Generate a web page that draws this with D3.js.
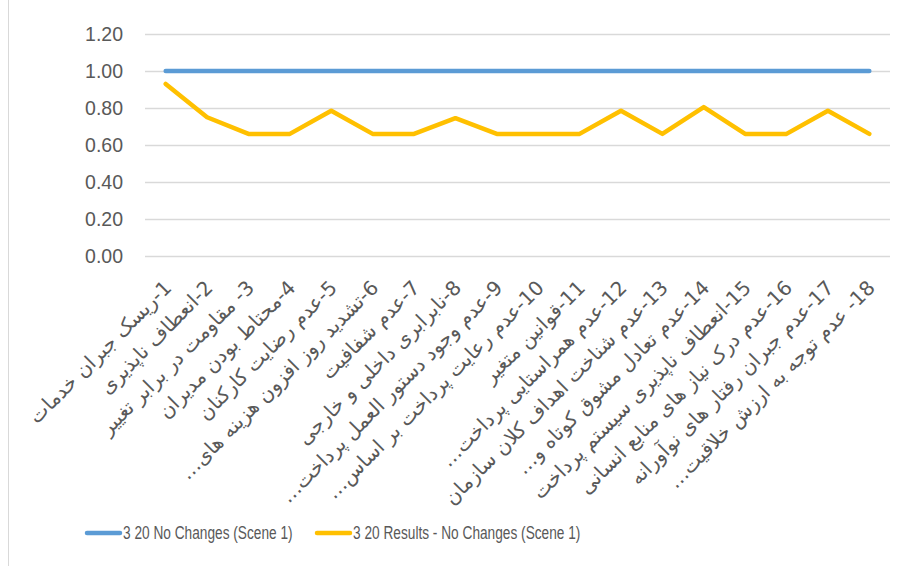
<!DOCTYPE html>
<html>
<head>
<meta charset="utf-8">
<script src="https://cdn.jsdelivr.net/npm/d3@7"></script>
<style>
  body { margin: 0; background: #fff; }
  svg { display: block; font-family: "Liberation Sans", Arial, sans-serif; }
</style>
</head>
<body>
<svg id="chart" width="905" height="566"></svg>
<script>
// category labels (Persian, as shown under the x axis)
const categories = [
  '1-ریسک جبران خدمات',
  '2-انعطاف ناپذیری',
  '3- مقاومت در برابر تغییر',
  '4-محتاط بودن مدیران',
  '5-عدم رضایت کارکنان',
  '6-تشدید روز افزون هزینه های…',
  '7-عدم شفافیت',
  '8-نابرابری داخلی و خارجی',
  '9-عدم وجود دستور العمل پرداخت…',
  '10-عدم رعایت پرداخت بر اساس…',
  '11-قوانین متغیر',
  '12-عدم همراستایی پرداخت…',
  '13-عدم شناخت اهداف کلان سازمان',
  '14-عدم تعادل مشوق کوتاه و…',
  '15-انعطاف ناپذیری سیستم پرداخت',
  '16-عدم درک نیاز های منابع انسانی',
  '17-عدم جبران رفتار های نوآورانه',
  '18- عدم توجه به ارزش خلاقیت…'
]

const noChanges = [1, 1, 1, 1, 1, 1, 1, 1, 1, 1, 1, 1, 1, 1, 1, 1, 1, 1]
const results = [0.93, 0.75, 0.66, 0.66, 0.785, 0.66, 0.66, 0.745, 0.66, 0.66, 0.66, 0.785, 0.66, 0.805, 0.66, 0.66, 0.785, 0.66]

const yTicks = [0, 0.2, 0.4, 0.6, 0.8, 1.0, 1.2]

const series = [
  { name: '3 20 No Changes (Scene 1)', values: noChanges, color: '#5B9BD5' },
  { name: '3 20 Results - No Changes (Scene 1)', values: results, color: '#FFC000' }
]

const svg = d3.select('#chart')

// chart border (only the left edge shows in the picture)
svg.append('line')
  .attr('x1', 8.5).attr('x2', 8.5)
  .attr('y1', 0).attr('y2', 566)
  .attr('stroke', '#D9D9D9')

const plot = { left: 145, right: 890, top: 34, bottom: 256 }

const x = d3.scaleBand()
  .domain(categories)
  .range([plot.left, plot.right])

const y = d3.scaleLinear()
  .domain([0, 1.2])
  .range([plot.bottom, plot.top])

// gridlines
svg.append('g')
  .selectAll('line')
  .data(yTicks)
  .join('line')
  .attr('x1', plot.left)
  .attr('x2', plot.right)
  .attr('y1', (d) => Math.round(y(d)) + 0.5)
  .attr('y2', (d) => Math.round(y(d)) + 0.5)
  .attr('stroke', '#D9D9D9')
  .attr('stroke-width', 1.3)

// y axis labels
const yAxis = d3.axisLeft(y)
  .tickValues(yTicks)
  .tickFormat(d3.format('.2f'))
  .tickSize(0)
  .tickPadding(22)

svg.append('g')
  .attr('transform', `translate(${plot.left},0)`)
  .call(yAxis)
  .call((g) => g.select('.domain').remove())
  .selectAll('text')
  .attr('fill', '#595959')
  .style('font-size', '19.5px')
  .style('font-family', '"Liberation Sans", Arial, sans-serif')

// x axis labels, rotated
svg.append('g')
  .selectAll('text')
  .data(categories)
  .join('text')
  .attr('transform', (d) => `translate(${x(d) + x.bandwidth() / 2 + 7},${plot.bottom + 33}) rotate(-45)`)
  .attr('direction', 'rtl')
  .attr('text-anchor', 'start')
  .attr('fill', '#595959')
  .style('font-family', '"DejaVu Sans", sans-serif')
  .style('font-size', '20px')
  .text((d) => d)

// lines
const line = d3.line()
  .x((d, i) => x(categories[i]) + x.bandwidth() / 2)
  .y((d) => y(d))

svg.append('g')
  .selectAll('path')
  .data(series)
  .join('path')
  .attr('d', (d) => line(d.values))
  .attr('fill', 'none')
  .attr('stroke', (d) => d.color)
  .attr('stroke-width', 4.5)
  .attr('stroke-linejoin', 'round')
  .attr('stroke-linecap', 'round')

// legend
const legendX = [85, 315]
const legend = svg.append('g')
  .selectAll('g')
  .data(series)
  .join('g')
  .attr('transform', (d, i) => `translate(${legendX[i]},533)`)

legend.append('line')
  .attr('x1', 2).attr('x2', 35)
  .attr('stroke', (d) => d.color)
  .attr('stroke-width', 4.5)
  .attr('stroke-linecap', 'round')

// Calibri-like narrow text: squeeze a regular sans horizontally
legend.append('text')
  .attr('transform', 'translate(38,0) scale(0.74,1)')
  .attr('dy', '0.35em')
  .attr('fill', '#595959')
  .style('font-size', '18.5px')
  .text((d) => d.name)
</script>
</body>
</html>
